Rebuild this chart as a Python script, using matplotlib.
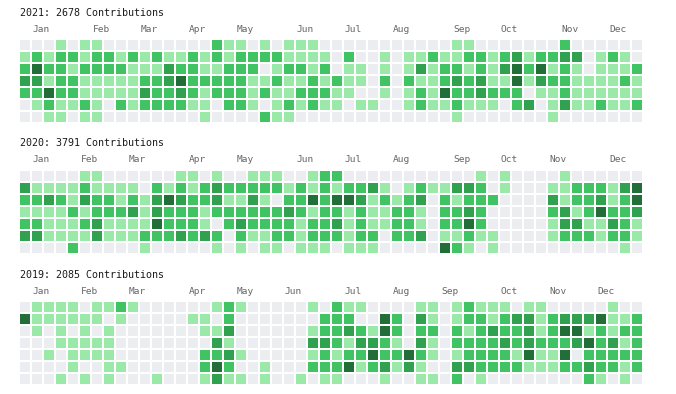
import matplotlib
matplotlib.use("Agg")
import matplotlib.pyplot as plt
from matplotlib.patches import Rectangle

# ---------------------------------------------------------------- data
# contribution level per day: 7 rows (weekday) x 52 weekly columns, 0 = none .. 4 = most
YEARS = ["2021", "2020", "2019"]
TOTALS = [2678, 3791, 2085]

LEVELS_2021 = [
    "0001011000" "0000002110" "1011100000" "0000001100" "0000020000" "00",
    "1212212212" "1211212122" "2211110200" "1011211221" "2312233012" "10",
    "2422122221" "1132211222" "0122120110" "1013122121" "3424121011" "12",
    "3312211111" "2234222221" "1211212110" "2021123231" "1413221111" "21",
    "2242211111" "3223212221" "2112221100" "1012142232" "2201121111" "11",
    "0121121021" "2222110221" "0121211011" "0012112111" "0230131121" "12",
    "0011011000" "0000010000" "2110000000" "0000001000" "0000100000" "00",
]
LEVELS_2020 = [
    "0000011000" "0001101001" "1100122000" "0000000010" "1000010000" "00",
    "3111121111" "0212123222" "2212121223" "1012113320" "1000112221" "34",
    "2232132212" "1343223113" "1022424431" "2123021222" "0000312231" "24",
    "1111212223" "1322212222" "2232122121" "1221022320" "0000231242" "23",
    "2211123111" "1422210232" "2221223121" "1221022420" "0000133113" "21",
    "3311113111" "2223232021" "1221222122" "0223011211" "0000122212" "21",
    "0000200000" "1000001010" "1101110111" "0000042101" "0000000000" "10",
]
LEVELS_2019 = [
    "0111101121" "0000001210" "0000102110" "0001101211" "1011000001" "00",
    "4111111010" "0000110200" "0000022200" "4203101221" "2331233341" "12",
    "0101010100" "0000011300" "0000122321" "4202202123" "2231244121" "22",
    "0001111100" "0000003100" "0000332133" "2103102222" "3232223423" "12",
    "0010111100" "0000022310" "0000121224" "2242101222" "2141140222" "22",
    "0000100110" "0000024200" "1000222412" "3131003322" "2211122322" "12",
    "0001010100" "0100013110" "1001011000" "1001102010" "0000000210" "10",
]
LEVELS = [LEVELS_2021, LEVELS_2020, LEVELS_2019]

MONTHS = ["Jan", "Feb", "Mar", "Apr", "May", "Jun",
          "Jul", "Aug", "Sep", "Oct", "Nov", "Dec"]
# week column where each month label starts
MONTH_COLS_2021 = [1, 6, 10, 14, 18, 23, 27, 31, 36, 40, 45, 49]
MONTH_COLS_2020 = [1, 5, 9, 14, 18, 23, 27, 31, 36, 40, 44, 49]
MONTH_COLS_2019 = [1, 5, 9, 14, 18, 22, 27, 31, 35, 40, 44, 48]
MONTH_COLS = [MONTH_COLS_2021, MONTH_COLS_2020, MONTH_COLS_2019]

PALETTE = ["#ebedf0", "#9be9a8", "#40c463", "#30a14e", "#216e39"]

# ---------------------------------------------------------------- layout (pixels)
W, H = 676, 394
PITCH = 12          # cell + gap
CELL = 10
GRID_LEFT = 20
GRID_TOPS = [40, 171, 302]
N_WEEKS, N_DAYS = 52, 7

FONT = "DejaVu Sans Mono"

fig = plt.figure(figsize=(W / 100, H / 100), dpi=100)
fig.patch.set_facecolor("white")

for year, total, levels, mcols, top in zip(YEARS, TOTALS, LEVELS, MONTH_COLS, GRID_TOPS):
    gw, gh = N_WEEKS * PITCH, N_DAYS * PITCH
    ax = fig.add_axes([GRID_LEFT / W, 1 - (top + gh) / H, gw / W, gh / H])
    ax.set_xlim(0, N_WEEKS)
    ax.set_ylim(N_DAYS, 0)
    ax.axis("off")

    s = CELL / PITCH
    for r, row in enumerate(levels):
        for c, lv in enumerate(row):
            ax.add_patch(Rectangle((c, r), s, s, facecolor=PALETTE[int(lv)],
                                   edgecolor="none", clip_on=False))

    ax.text(0, -27.5 / PITCH, f"{year}: {total} Contributions", ha="left", va="center",
            fontsize=7.2, family=FONT, color="#1a1a1a", clip_on=False)
    for m, c in zip(MONTHS, mcols):
        ax.text(c + 0.08, -11 / PITCH, m, ha="left", va="center",
                fontsize=6.8, family=FONT, color="#666666", clip_on=False)

fig.savefig("out.png", dpi=100, facecolor="white")
